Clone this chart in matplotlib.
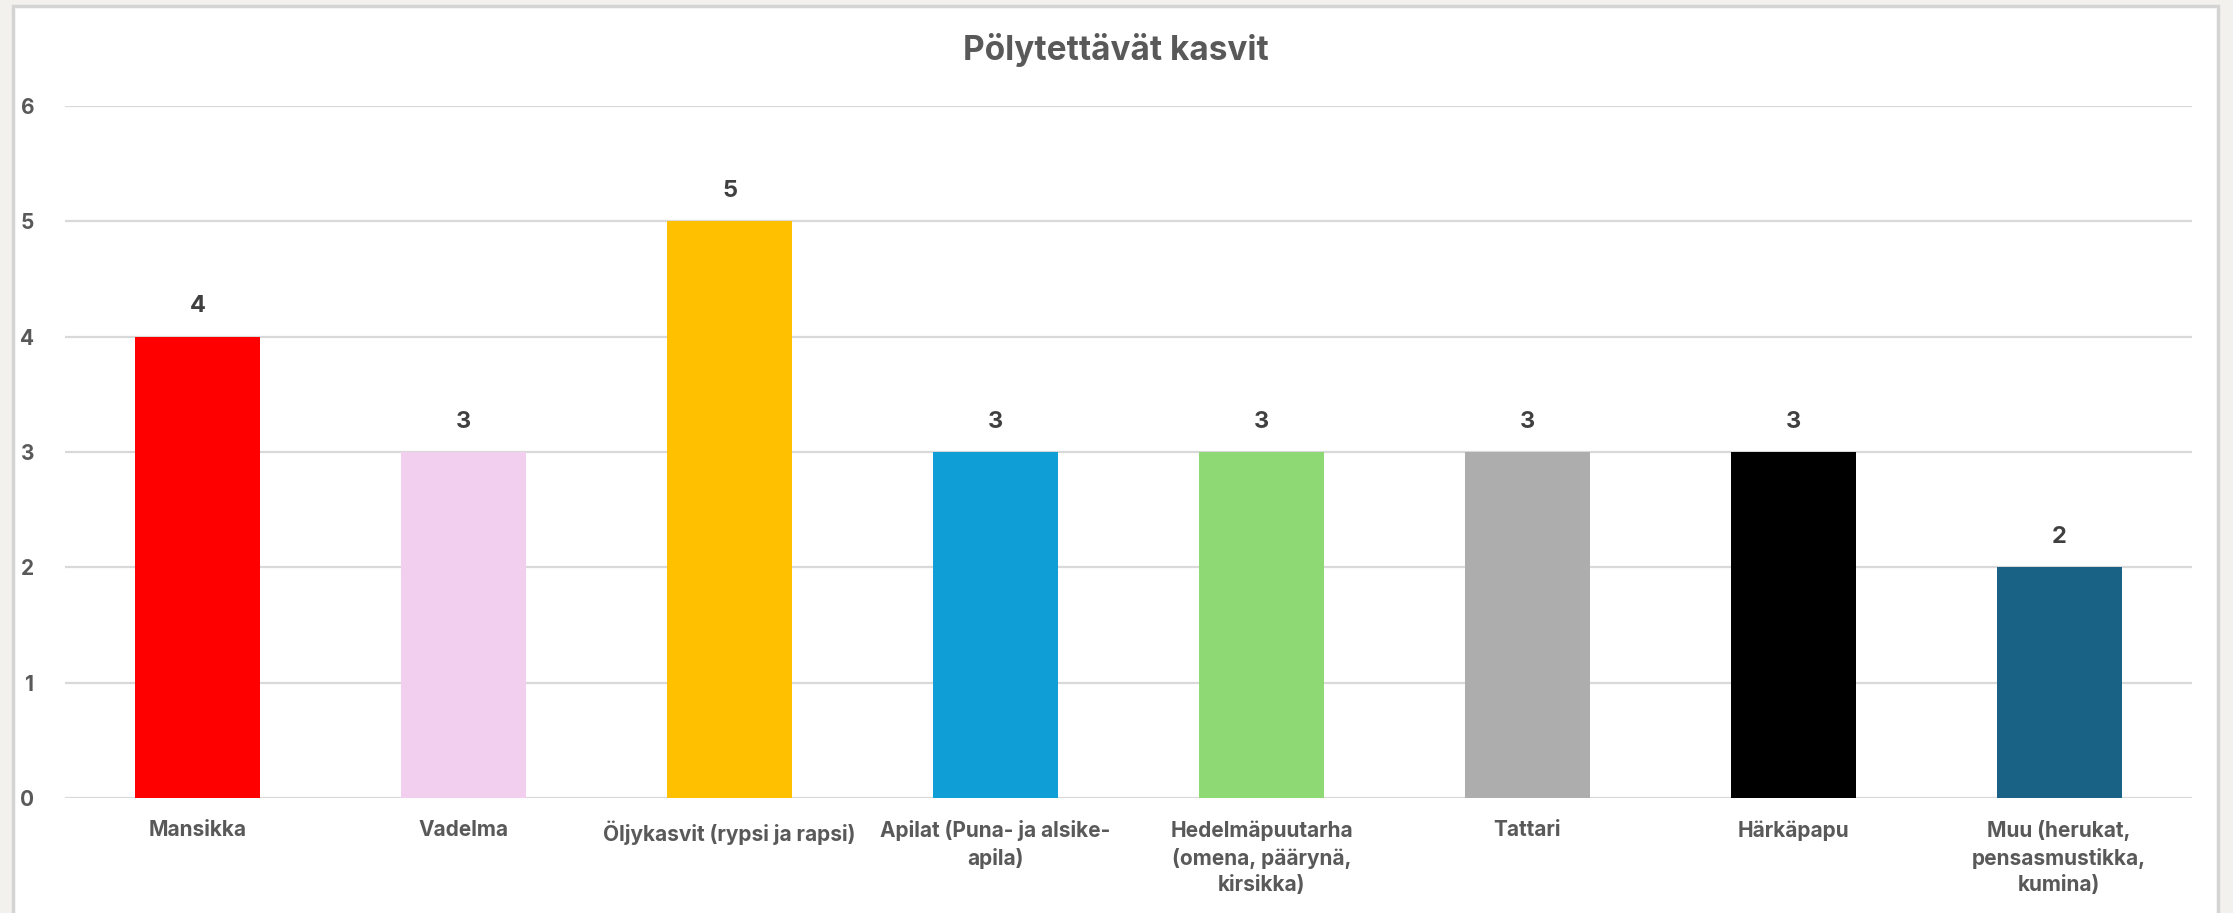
import numpy as np
import matplotlib
matplotlib.use("Agg")
import matplotlib.pyplot as plt
from matplotlib.patches import Rectangle

plt.rcParams['font.family'] = ['Inter', 'DejaVu Sans']

# data
categories = ["Mansikka", "Vadelma", "Öljykasvit (rypsi ja rapsi)",
              "Apilat (Puna- ja alsike-\napila)",
              "Hedelmäpuutarha\n(omena, päärynä,\nkirsikka)",
              "Tattari", "Härkäpapu",
              "Muu (herukat,\npensasmustikka,\nkumina)"]
values = [4, 3, 5, 3, 3, 3, 3, 2]
colors = ["#FF0000", "#F2CFEE", "#FFC000", "#0F9ED5",
          "#8ED973", "#ADADAD", "#000000", "#196185"]
title = "Pölytettävät kasvit"

W, H = 2233, 913
fig = plt.figure(figsize=(W / 100, H / 100), dpi=100, facecolor="#f3f1ee")

# white chart box with grey border
box = Rectangle((13 / W, -0.05), (2218 - 13) / W, (H - 6) / H + 0.05,
                transform=fig.transFigure, facecolor="white",
                edgecolor="#d4d4d4", linewidth=2.5, zorder=-5)
fig.patches.append(box)

ax = fig.add_axes([65 / W, (H - 798) / H, (2192 - 65) / W, (798 - 106) / H])
ax.set_zorder(2)
ax.set_facecolor("white")

x = np.arange(len(categories))
bars = ax.bar(x, values, width=0.47, color=colors, zorder=3)

ax.set_xlim(-0.5, len(categories) - 0.5)
ax.set_ylim(0, 6)
ax.set_yticks(range(0, 7))
ax.yaxis.grid(True, color="#d9d9d9", linewidth=1.6, zorder=0)
ax.set_axisbelow(True)
for s in ax.spines.values():
    s.set_visible(False)

ax.set_xticks(x)
ax.set_xticklabels(categories, fontsize=15, fontweight="bold",
                   color="#595959", linespacing=1.4)
ax.tick_params(axis="x", length=0, pad=16)
ax.tick_params(axis="y", length=0, pad=22, labelsize=15, labelcolor="#595959")
for lbl in ax.get_yticklabels():
    lbl.set_fontweight("bold")

for xi, v in zip(x, values):
    ax.annotate(str(v), (xi, v), xytext=(0, 14), textcoords="offset points",
                ha="center", va="bottom", fontsize=17, fontweight="bold",
                color="#404040")

fig.text(0.5 * (13 + 2218) / W, (H - 50) / H, title, ha="center", va="center",
         fontsize=24, fontweight="bold", color="#595959")

fig.savefig("out.png", dpi=100, facecolor=fig.get_facecolor())
